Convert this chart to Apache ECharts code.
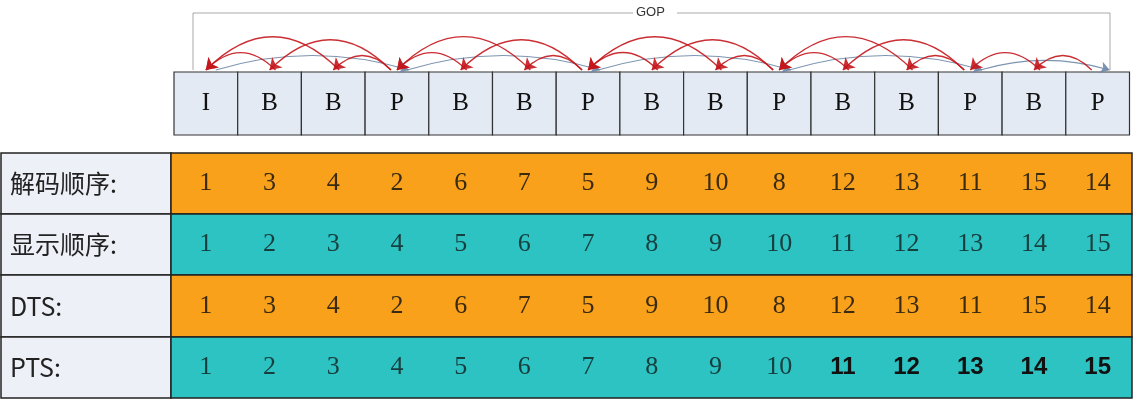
<!DOCTYPE html>
<html>
<head>
<meta charset="utf-8">
<script src="https://cdn.jsdelivr.net/npm/echarts@6/dist/echarts.min.js"></script>
<style>html,body{margin:0;padding:0;background:#fff}#main{width:1146px;height:408px}</style>
</head>
<body>
<div id="main"></div>
<script>
// data
const frameTypes = ['I', 'B', 'B', 'P', 'B', 'B', 'P', 'B', 'B', 'P', 'B', 'B', 'P', 'B', 'P'];
const decodeOrder = [1, 3, 4, 2, 6, 7, 5, 9, 10, 8, 12, 13, 11, 15, 14];
const displayOrder = [1, 2, 3, 4, 5, 6, 7, 8, 9, 10, 11, 12, 13, 14, 15];
const dts = [1, 3, 4, 2, 6, 7, 5, 9, 10, 8, 12, 13, 11, 15, 14];
const pts = [1, 2, 3, 4, 5, 6, 7, 8, 9, 10, 11, 12, 13, 14, 15];
const rowLabels = ['解码顺序:', '显示顺序:', 'DTS:', 'PTS:'];

const X0 = 174, W = 63.7, LABW = 171, TABR = 1132;
const rows = [
  { label: rowLabels[0], vals: decodeOrder, color: '#F9A11B', text: '#3a2a10' },
  { label: rowLabels[1], vals: displayOrder, color: '#2EC3C3', text: '#16403f' },
  { label: rowLabels[2], vals: dts, color: '#F9A11B', text: '#3a2a10' },
  { label: rowLabels[3], vals: pts, color: '#2EC3C3', text: '#16403f' }
];
const rowTop = [153, 214, 275, 337, 398];
const cx = i => X0 + W * (i + 0.5);

// reference arcs (leftward lines need negative curveness to bend upward)
const redArcs = [], blueArcs = [];
const anchors = frameTypes.map((t, i) => t !== 'B' ? i : -1).filter(i => i >= 0);
frameTypes.forEach((t, i) => {
  if (t === 'B') {
    const prev = Math.max(...anchors.filter(a => a < i));
    const next = Math.min(...anchors.filter(a => a > i));
    redArcs.push({ coords: [[cx(i) + 6, 70], [cx(prev), 70]], lineStyle: { curveness: -0.5 } });
    redArcs.push({ coords: [[cx(next) - 6, 70], [cx(i), 70]], lineStyle: { curveness: -0.5 } });
  } else if (i > 0) {
    const prev = Math.max(...anchors.filter(a => a < i));
    blueArcs.push({ coords: [[cx(prev) + 10, 70], [cx(i) + 12, 70]], lineStyle: { curveness: 0.15 } });
  }
});

const chart = echarts.init(document.getElementById('main'));
chart.setOption({
  animation: false,
  grid: { left: 0, right: 0, top: 0, bottom: 0 },
  xAxis: { type: 'value', min: 0, max: 1146, show: false },
  yAxis: { type: 'value', min: 0, max: 408, inverse: true, show: false },
  series: [
    {
      type: 'lines', coordinateSystem: 'cartesian2d', polyline: true, silent: true,
      lineStyle: { color: '#555', width: 1 },
      data: [{ coords: [[193, 70], [193, 13], [633, 13]] }, { coords: [[677, 13], [1110, 13], [1110, 70]] }]
    },
    {
      type: 'lines', coordinateSystem: 'cartesian2d', silent: true, z: 3,
      symbol: ['none', 'arrow'], symbolSize: 9,
      lineStyle: { color: '#6f88a8', width: 1.2, opacity: 0.9 },
      data: blueArcs
    },
    {
      type: 'lines', coordinateSystem: 'cartesian2d', silent: true, z: 4,
      symbol: ['none', 'arrow'], symbolSize: 11,
      lineStyle: { color: '#c4161c', width: 1.4, opacity: 0.9 },
      data: redArcs
    },
    {
      type: 'custom', silent: true,
      data: frameTypes.map((t, i) => [i, t]),
      renderItem: (params, api) => {
        const i = api.value(0);
        const p0 = api.coord([X0 + W * i, 72]), p1 = api.coord([X0 + W * (i + 1), 135]);
        return {
          type: 'group', children: [
            { type: 'rect', shape: { x: p0[0], y: p0[1], width: p1[0] - p0[0], height: p1[1] - p0[1] },
              style: { fill: '#E4EAF4', stroke: '#333', lineWidth: 1.2 } },
            { type: 'text', style: { x: (p0[0] + p1[0]) / 2, y: (p0[1] + p1[1]) / 2, text: frameTypes[i],
              align: 'center', verticalAlign: 'middle', font: '25px "Liberation Serif", serif', fill: '#111' } }
          ]
        };
      }
    },
    {
      type: 'custom', silent: true,
      data: rows.map((r, k) => [k]),
      renderItem: (params, api) => {
        const k = api.value(0), r = rows[k];
        const a = api.coord([0, rowTop[k]]), b = api.coord([TABR, rowTop[k + 1]]);
        const lx = api.coord([LABW, 0])[0];
        const mid = (a[1] + b[1]) / 2;
        const children = [
          { type: 'rect', shape: { x: a[0] + 1, y: a[1], width: lx - a[0] - 1, height: b[1] - a[1] },
            style: { fill: '#EEF0F8', stroke: '#222', lineWidth: 1.5 } },
          { type: 'rect', shape: { x: lx, y: a[1], width: b[0] - lx, height: b[1] - a[1] },
            style: { fill: r.color, stroke: '#222', lineWidth: 1.5 } },
          { type: 'text', style: { x: 10, y: mid, text: r.label, verticalAlign: 'middle',
            font: '25px "Noto Sans CJK SC", "Liberation Serif", serif', fill: '#222' } }
        ];
        r.vals.forEach((v, i) => {
          const bold = k === 3 && i >= 10;
          children.push({ type: 'text', style: { x: api.coord([cx(i), 0])[0], y: mid, text: String(v),
            align: 'center', verticalAlign: 'middle',
            font: bold ? '600 24px "Liberation Sans", sans-serif' : '26px "Liberation Serif", serif',
            fill: bold ? '#111' : r.text } });
        });
        return { type: 'group', children };
      }
    }
  ],
  graphic: [{ type: 'text', left: 636, top: 6, style: { text: 'GOP', font: '13px "Liberation Sans", sans-serif', fill: '#333' } }]
});
</script>
</body>
</html>
